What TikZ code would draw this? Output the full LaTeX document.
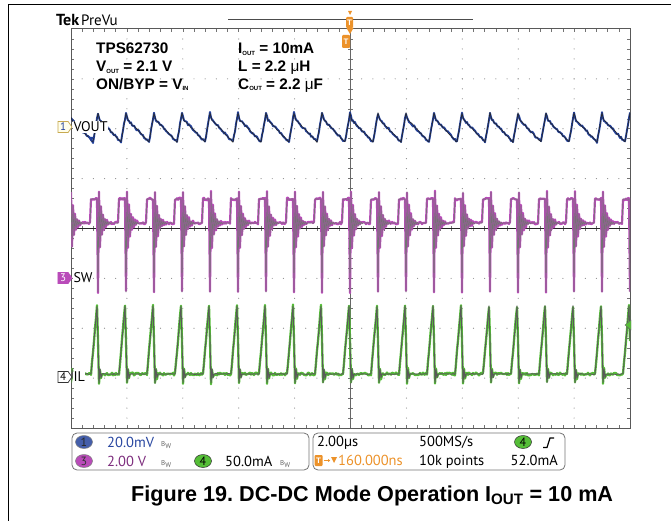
\documentclass[tikz,border=0pt]{standalone}
\usepackage{fontspec}
\setmainfont{Liberation Sans}
\newfontfamily\scopefont{PT Sans}
\usetikzlibrary{arrows.meta,positioning,shapes.symbols,shapes.geometric}
\definecolor{tekblue}{RGB}{35,65,155}
\definecolor{tekpurple}{RGB}{185,75,185}
\definecolor{tekgreen}{RGB}{85,190,55}
\definecolor{tekorange}{RGB}{236,146,42}
\definecolor{markgold}{RGB}{200,170,80}
\definecolor{txtblue}{RGB}{40,70,160}
\definecolor{txtpurple}{RGB}{125,45,125}
\newcommand\lowsub[1]{\raisebox{-1.6pt}{\fontsize{6}{6}\selectfont #1}}
\tikzset{%
  tipS/.tip={Triangle[length=2.2pt,width=3pt]},
  griddot/.style={fill=black!45},
  gridtick/.style={draw=black!55, line width=0.5pt},
  trace/.style={line width=1.9pt, line join=round},
  traceline/.style={draw=black!65, line width=0.9pt, line join=round},
  note/.style={anchor=base west, inner sep=0, font=\bfseries\fontsize{15.3}{15.3}\selectfont},
  scopetxt/.style={anchor=base west, inner sep=0, font=\scopefont\fontsize{14.5}{14.5}\selectfont},
  chmark/.style={signal, signal to=east, signal pointer angle=110, draw, line width=0.7pt,
    minimum width=14, minimum height=11, inner sep=0, font=\scopefont\fontsize{11}{11}\selectfont},
  chlabel/.style={fill=white, inner sep=0.5pt, font=\scopefont\fontsize{14}{14}\selectfont},
  chip/.style={ellipse, draw=black!50, line width=0.5pt, minimum width=17, minimum height=13,
    inner sep=0, font=\scopefont\fontsize{12}{12}\selectfont},
  bwtag/.style={anchor=base west, inner sep=0, text=black!60, font=\scopefont\fontsize{7}{7}\selectfont},
  tflag/.style={rectangle, rounded corners=1pt, fill=tekorange, text=white, inner sep=0,
    font=\bfseries\fontsize{8}{8}\selectfont},
  statusbox/.style={draw=black!55, line width=0.8pt, rounded corners=5pt}
}

\begin{document}
\begin{tikzpicture}[x=1pt,y=-1pt,
  declare function={
    ph(\x)=mod(\x-70,28);
    vo(\t)=(\t<1)?113:((\t<2)?117:((\t<23)?(120+(\t-2)*22/21):(142-(\t-23)*29/5)));
    sw(\t)=(\t<1)?292:((\t<2)?192:((\t<13)?(223+24*exp(-(\t-2)/3)*cos(180*\t)):((\t<21)?223:199)));
    il(\t)=(\t<1)?340:((\t<2)?383:((\t<3)?369:((\t<4)?378:((\t<21)?374:(374-(\t-21)*68/6)))));
  }]
\useasboundingbox (0,0) rectangle (671,521);
\draw[black, line width=0.9pt] (8,521) -- (8,4) -- (671,4);

% graticule
\foreach \i in {1,...,9}{
  \foreach \j in {1,...,39}{
    \fill[griddot] ({71+55.9*\i},{29+9.975*\j}) circle (0.6);
  }
}
\foreach \j in {1,...,7}{
  \foreach \i in {1,...,49}{
    \fill[griddot] ({71+11.18*\i},{29+49.875*\j}) circle (0.6);
  }
}
\foreach \i in {1,...,49}{
  \draw[gridtick] ({71+11.18*\i},29) -- ++(0,3);
  \draw[gridtick] ({71+11.18*\i},428) -- ++(0,-3);
  \draw[gridtick] ({71+11.18*\i},226) -- ++(0,5);
}
\foreach \j in {1,...,39}{
  \draw[gridtick] (71,{29+9.975*\j}) -- ++(3,0);
  \draw[gridtick] (630,{29+9.975*\j}) -- ++(-3,0);
  \draw[gridtick] (348,{29+9.975*\j}) -- ++(5,0);
}
\draw[black!60, line width=0.8pt] (350.5,29) -- (350.5,428);
\draw[black!85, line width=0.9pt] (71,228.5) -- (630,228.5);
\draw[black!65, line width=1pt] (71,29) rectangle (630,428);

% traces
\pgfmathsetseed{11}
\begin{scope}
\clip (71,29) rectangle (630,428);
\draw[trace, tekpurple, line width=2.2pt] plot[samples at={71,...,630}] (\x,{sw(ph(\x))+1.3*rand});
\draw[traceline, black!55, line width=0.6pt] plot[samples at={71,...,630}] (\x,{sw(ph(\x))});
\draw[trace, tekgreen, line width=2.3pt] plot[samples at={71,...,630}] (\x,{il(ph(\x))+1.4*rand});
\draw[traceline] plot[samples at={71,...,630}] (\x,{il(ph(\x))+0.4*rand});
\draw[trace, tekblue] plot[samples at={71,...,630}] (\x,{vo(ph(\x))+1.2*rand});
\draw[traceline, black!85, line width=0.6pt] plot[samples at={71,...,630}] (\x,{vo(ph(\x))+0.6*rand});
\end{scope}

% header
\node[anchor=base west, inner sep=0, font=\scopefont\bfseries\fontsize{16}{16}\selectfont] (tek) at (56,26) {Tek};
\node[anchor=base west, inner sep=0, font=\scopefont\fontsize{15}{15}\selectfont] (prevu) at (81,26) {PreVu};
\draw[black!70, line width=0.8pt] (228,19.5) -- (473,19.5);
\fill[tekorange] (348,11) -- (352,11) -- (350,15) -- cycle;
\node[tflag, minimum width=7, minimum height=11] (trig) at (349.5,22.5) {T};
\fill[tekorange] (346.5,28) -- (353.5,28) -- (350,34) -- cycle;
\node[tflag, minimum width=8, minimum height=13] (tpos) at (346,41.5) {T};

% settings text
\node[note] (part) at (96,54) {TPS62730};
\node[note] (vout) at (96,71.5) {V\lowsub{OUT} = 2.1 V};
\node[note] (onbyp) at (96,89.3) {ON/BYP = V\lowsub{IN}};
\node[note] (iout) at (238,54) {I\lowsub{OUT} = 10mA};
\node[note] (ind) at (238,71.5) {L = 2.2 {\mdseries μ}H};
\node[note] (cout) at (238,89.3) {C\lowsub{OUT} = 2.2 {\mdseries μ}F};

% channel markers
\node[chmark, draw=markgold, fill=yellow!8, text=tekblue] (m1) at (63,127) {1};
\node[chlabel, right=0.5pt of m1] (l1) {VOUT};
\fill[tekblue] (88,137) -- (94,137) -- (91,141.5) -- cycle;
\node[chmark, draw=tekpurple, fill=tekpurple, text=white] (m3) at (63,278) {3};
\node[chlabel, right=0.5pt of m3] (l3) {SW};
\node[chmark, draw=black!80, fill=white, text=black] (m4) at (63,377) {4};
\node[chlabel, right=0.5pt of m4] (l4) {IL};
\fill[tekgreen, draw=black!60, line width=0.4pt] (631,320) -- (625,325) -- (631,330) -- cycle;

% status bar
\draw[statusbox] (72,433) rectangle (309,470);
\draw[statusbox] (313,433) rectangle (565,470);
\node[chip, fill=tekblue!85, text=black!85] (c1) at (84,442) {1};
\node[scopetxt, text=txtblue] (s1) at (107,447.3) {20.0mV};
\node[bwtag] (bw1) at (161,446) {B\raisebox{-2pt}{W}};
\node[chip, fill=tekpurple, text=black!80] (c3) at (84,461) {3};
\node[scopetxt, text=txtpurple] (s3) at (107,466) {2.00 V};
\node[bwtag] (bw3) at (161,465) {B\raisebox{-2pt}{W}};
\node[chip, fill=tekgreen, draw=black!80, text=black] (c4) at (203,461) {4};
\node[scopetxt] (s4) at (225,466) {50.0mA};
\node[bwtag] (bw4) at (280,465) {B\raisebox{-2pt}{W}};

\node[scopetxt] (hdiv) at (317,446.7) {2.00µs};
\node[scopetxt] (rate) at (419,446.7) {500MS/s};
\node[chip, fill=tekgreen, draw=black!80, text=black] (c4t) at (523,442) {4};
\draw[black, line width=1.2pt] (543,447.5) -- (547,447.5) -- (550,438) -- (554,438);
\node[tflag, minimum width=8, minimum height=11] (tic) at (318.5,460.5) {T};
\draw[-tipS, tekorange, line width=0.8pt] (tic.east) ++(1,0) -- ++(6.5,0);
\fill[tekorange] (331,457) -- (337,457) -- (334,463) -- cycle;
\node[scopetxt, text=tekorange] (tdel) at (338,465.5) {160.000ns};
\node[scopetxt] (npts) at (419,465.5) {10k points};
\node[scopetxt, anchor=base east] (tlev) at (558,465.5) {52.0mA};

% caption
\node[anchor=base west, inner sep=0, font=\bfseries\fontsize{21.6}{21.6}\selectfont\frenchspacing] (caption) at (131,501.5)
  {Figure 19. DC-DC Mode Operation I\textsubscript{OUT} = 10 mA};
\end{tikzpicture}
\end{document}
